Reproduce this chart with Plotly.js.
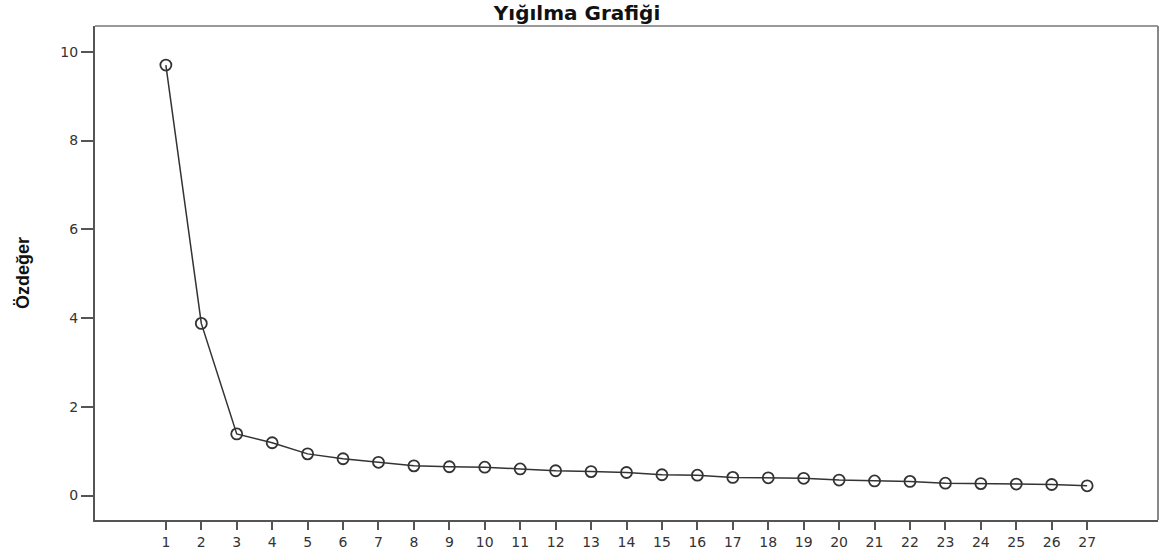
<!DOCTYPE html>
<html>
<head>
<meta charset="utf-8">
<script src="https://cdn.plot.ly/plotly-3.0.1.min.js"></script>
<style>html,body{margin:0;padding:0;background:#fff;}#chart{width:1161px;height:552px;}</style>
</head>
<body>
<div id="chart"></div>
<script>
const components = [1,2,3,4,5,6,7,8,9,10,11,12,13,14,15,16,17,18,19,20,21,22,23,24,25,26,27];
const eigenvalues = [9.70,3.88,1.39,1.19,0.94,0.83,0.75,0.67,0.65,0.64,0.60,0.56,0.54,0.52,0.47,0.46,0.41,0.40,0.39,0.35,0.33,0.32,0.28,0.27,0.26,0.25,0.22];
const yTicks = [0,2,4,6,8,10];

const trace = {
  x: components,
  y: eigenvalues,
  type: 'scatter',
  mode: 'lines+markers',
  line: {color: '#333333', width: 1.5},
  marker: {symbol: 'circle-open', size: 11, color: '#333333', line: {width: 1.8, color: '#333333'}},
  hoverinfo: 'x+y'
};

const tickFont = {family: 'DejaVu Sans, Verdana, sans-serif', size: 14, color: '#333333'};

const layout = {
  width: 1161, height: 552,
  margin: {l: 95, r: 3, t: 26, b: 32},
  paper_bgcolor: '#ffffff', plot_bgcolor: '#ffffff',
  showlegend: false,
  title: {text: 'Yığılma Grafiği', x: 0.497, xref: 'container', xanchor: 'center', y: 0.976, yref: 'container', yanchor: 'middle',
          font: {family: 'DejaVu Sans, Verdana, sans-serif', size: 20, color: '#111111', weight: 'bold'}},
  xaxis: {
    range: [-1, 29], tickvals: components, ticktext: components.map(String),
    showgrid: false, zeroline: false,
    showline: true, linecolor: '#555555', linewidth: 2, mirror: false,
    ticks: 'outside', ticklen: 8, tickwidth: 2, tickcolor: '#555555',
    tickfont: tickFont
  },
  yaxis: {
    range: [-0.55, 10.58], tickvals: yTicks,
    showgrid: false, zeroline: false,
    showline: true, linecolor: '#555555', linewidth: 2, mirror: false,
    ticks: 'outside', ticklen: 12, tickwidth: 2, tickcolor: '#555555',
    tickfont: tickFont,
    title: {text: 'Özdeğer', standoff: 26, font: {family: 'Liberation Sans Narrow, Arial Narrow, Liberation Sans, Arial, sans-serif', size: 18, color: '#111111', weight: 'bold'}}
  },
  shapes: [
    {type: 'line', xref: 'paper', yref: 'paper', x0: 0, x1: 1, y0: 1, y1: 1, line: {color: '#999999', width: 2}},
    {type: 'line', xref: 'paper', yref: 'paper', x0: 1, x1: 1, y0: 0, y1: 1, line: {color: '#888888', width: 2}}
  ]
};

Plotly.newPlot('chart', [trace], layout, {displayModeBar: false});
</script>
</body>
</html>
